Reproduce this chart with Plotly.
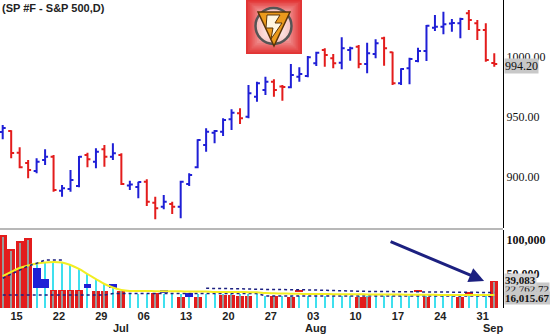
import plotly.graph_objects as go
import pandas as pd

# ---------------- data ----------------
dates = pd.bdate_range("2009-06-12", "2009-09-02")  # 59 sessions (incl. Jul 3)

opens = [937.5, 938.3, 920.3, 911.7, 905.0, 914.2, 916.9, 888.6, 890.0, 892.5,
         918.3, 912.8, 923.1, 916.9, 918.3, 892.9, 891.7, 896.1, 878.6, 875.3,
         877.5, 875.3, 894.2, 908.1, 926.7, 936.9, 937.8, 948.1, 953.1, 950.3,
         966.9, 972.5, 979.4, 975.4, 974.8, 983.6, 984.2, 994.8, 1005.8, 998.9,
         995.3, 1005.8, 1008.6, 994.2, 1002.5, 1015.6, 1003.9, 978.1, 990.6, 996.7,
         1005.0, 1024.4, 1025.3, 1027.9, 1028.1, 1036.4, 1028.1, 1022.5, 995.0]
highs = [943.3, 939.0, 924.8, 914.2, 915.6, 923.1, 918.3, 893.3, 905.8, 917.5,
         920.3, 923.9, 926.7, 928.1, 919.8, 896.9, 896.1, 898.1, 883.6, 885.0,
         879.4, 896.9, 903.1, 931.4, 940.6, 939.2, 948.9, 956.4, 957.3, 976.7,
         979.4, 983.6, 981.4, 976.7, 994.2, 991.4, 1000.8, 1004.4, 1007.3, 1002.5,
         1016.4, 1008.6, 1010.0, 1011.9, 1014.8, 1016.9, 1004.4, 990.6, 999.4, 1007.8,
         1026.7, 1035.0, 1037.8, 1031.7, 1032.8, 1039.2, 1030.8, 1028.1, 1003.1]
lows = [931.4, 915.6, 907.3, 898.9, 903.1, 910.0, 887.8, 883.6, 887.8, 891.4,
        908.1, 907.3, 908.6, 914.2, 893.3, 889.2, 882.3, 875.8, 864.8, 873.1,
        869.2, 865.6, 892.5, 907.3, 921.1, 928.1, 934.2, 939.2, 944.2, 948.9,
        962.8, 968.3, 966.9, 963.6, 973.9, 979.4, 983.1, 992.5, 991.9, 990.6,
        989.8, 996.9, 990.6, 986.4, 998.9, 992.8, 976.7, 976.7, 977.3, 995.6,
        996.7, 1021.7, 1018.9, 1021.1, 1015.6, 1022.5, 1014.2, 996.1, 991.9]
closes = [940.8, 920.0, 908.1, 905.8, 912.8, 916.9, 889.2, 890.6, 897.5, 916.9,
          914.8, 921.1, 916.9, 919.8, 894.2, 893.8, 895.8, 879.4, 873.9, 879.4,
          875.3, 896.1, 901.7, 930.8, 937.8, 938.3, 947.5, 953.6, 948.9, 969.8,
          978.1, 979.4, 972.5, 975.0, 985.0, 985.8, 999.8, 1003.6, 1001.7, 994.8,
          1007.3, 1007.3, 994.2, 1003.1, 1011.4, 1007.3, 978.1, 990.0, 998.3, 1005.0,
          1026.1, 1025.3, 1027.3, 1028.3, 1031.7, 1030.8, 1022.5, 997.5, 994.2]

# volume panel
vol_red = [107000, 86800, 98500, 103000, 0, 0, 26500, 26500, 26500, 26500,
           0, 25400, 25400, 0, 25400, 0, 0, 0, 21600, 0,
           0, 16600, 0, 16600, 0, 0, 19100, 19100, 18100, 18100,
           0, 0, 18100, 0, 16600, 0, 0, 0, 0, 0,
           0, 0, 16600, 16600, 0, 0, 0, 0, 0, 0,
           16600, 0, 0, 0, 16600, 0, 0, 0, 39083]
blk_base = [None, None, None, None, 29400, 29400, None, None, None, None,
            29400, None, None, 29400, None, None, None, None, None, 22100,
            None, None, 16600, None, None, None, None, None, None, None,
            None, None, None, None, None, 23500, None, None, None, None,
            None, None, None, None, None, None, None, None, None, 23500,
            None, None, None, None, None, 20600, None, None, None]
blk_top = [None, None, None, None, 58800, 42600, None, None, None, None,
           35300, None, None, 35300, None, None, None, None, None, 26500,
           None, None, 22100, None, None, None, None, None, None, None,
           None, None, None, None, None, 26500, None, None, None, None,
           None, None, None, None, None, None, None, None, None, 26500,
           None, None, None, None, None, 23500, None, None, None]
blk_kind = [None, None, None, None, 0, 0, None, None, None, None,
            0, None, None, 0, None, None, None, None, None, 0,
            None, None, 0, None, None, None, None, None, None, None,
            None, None, None, None, None, 1, None, None, None, None,
            None, None, None, None, None, None, None, None, None, 1,
            None, None, None, None, None, 1, None, None, None]
ma_line = [47000, 53000, 58800, 62500, 65400, 66900, 67600, 66900, 63200, 57400,
           50000, 42600, 35300, 30100, 26500, 25000, 25000, 24900, 24800, 24700,
           24600, 24500, 24400, 24300, 24300, 23500, 23500, 23500, 23400, 23300,
           23200, 22000, 21600, 21300, 21000, 20800, 20600, 20600, 20500, 20400,
           20300, 20200, 20100, 20000, 20000, 19900, 19800, 19700, 19600, 19500,
           19400, 19300, 19200, 19100, 19100, 19000, 19000, 19000, 19000]
dot_hi = [43700, 50000, 55900, 61800, 65700, 70600, 70600, 70600, None, None,
          None, None, None, None, None, None, None, None, None, None,
          None, None, None, None, 29000, 29000, 28500, 28500, 28000, 28000,
          27500, 27500, 27000, 27000, 26800, 26600, 26500, 26500, 26000, 25500,
          25000, 24800, 24600, 24400, 24300, 24200, 24000, 23800, 23600, 23400,
          23300, 23200, 23100, 23000, 22900, 22850, 22800, 22780, 22762.72]
dot_lo = ([19100] * 13 + [21300] * 18 + [17800] * 27 + [16015.67])

BLUE = "#1f1fd6"
RED = "#e31c1c"
NAVY = "#1c2080"

x = list(range(len(dates)))

fig = go.Figure()
fig.add_trace(go.Ohlc(
    x=x, open=opens, high=highs, low=lows, close=closes,
    increasing=dict(line=dict(color=BLUE, width=2)),
    decreasing=dict(line=dict(color=RED, width=2)),
    tickwidth=0.35, xaxis="x", yaxis="y", showlegend=False, hoverinfo="skip"))

fig.add_trace(go.Bar(x=x, y=dot_lo, width=0.14, marker=dict(color="#3fe0ee", line_width=0),
                     xaxis="x2", yaxis="y2", showlegend=False))
fig.add_trace(go.Bar(x=x, y=ma_line[:14] + [None] * 45, width=0.14, marker=dict(color="#3fe0ee", line_width=0),
                     xaxis="x2", yaxis="y2", showlegend=False))
fig.add_trace(go.Bar(x=x, y=vol_red, width=0.92, marker=dict(color=RED, line_width=0),
                     xaxis="x2", yaxis="y2", showlegend=False))
fig.add_trace(go.Bar(x=x, y=[v * 0.97 for v in vol_red], width=0.14,
                     marker=dict(color="#9a9a9a", line_width=0),
                     xaxis="x2", yaxis="y2", showlegend=False))
for k, col in enumerate([BLUE, RED]):
    fig.add_trace(go.Bar(
        x=x,
        base=[b if kk == k else None for b, kk in zip(blk_base, blk_kind)],
        y=[(t - b) if kk == k else None for t, b, kk in zip(blk_top, blk_base, blk_kind)],
        width=0.92, marker=dict(color=col, line_width=0),
        xaxis="x2", yaxis="y2", showlegend=False))
fig.add_trace(go.Scatter(x=x, y=dot_lo, mode="lines", line=dict(color=NAVY, width=1.5, dash="dot"),
                         xaxis="x2", yaxis="y2", showlegend=False))
fig.add_trace(go.Scatter(x=x, y=ma_line, mode="lines", line=dict(color="#f2ee22", width=2, shape="spline"),
                         xaxis="x2", yaxis="y2", showlegend=False))
fig.add_trace(go.Scatter(x=x, y=dot_hi, mode="lines", line=dict(color=NAVY, width=1.5, dash="dot"),
                         xaxis="x2", yaxis="y2", showlegend=False, connectgaps=False))

# ---------------- axes ----------------
mondays = [i for i, d in enumerate(dates) if d.weekday() == 0]
month_starts = [i for i in range(1, len(dates)) if dates[i].month != dates[i - 1].month]

XR = [-0.32, 59.03]
fig.update_layout(
    width=550, height=334, margin=dict(l=0, r=47, t=0, b=26),
    paper_bgcolor="white", plot_bgcolor="white", barmode="overlay", bargap=0,
    xaxis=dict(domain=[0, 1], range=XR, anchor="y", showticklabels=False, showgrid=False,
               zeroline=False, rangeslider=dict(visible=False)),
    xaxis2=dict(domain=[0, 1], range=XR, anchor="y2", matches="x", showgrid=False, zeroline=False,
                tickmode="array", tickvals=[i + 0.64 for i in mondays],
                ticktext=[f"{dates[i].day:02d}" for i in mondays],
                tickfont=dict(family="Liberation Sans", size=11, color="#222", weight="bold"),
                ticks="", ticklabelstandoff=0),
    yaxis=dict(domain=[0.2597, 1], range=[857.5, 1047.5], side="right", showgrid=False, zeroline=False,
               tickvals=[900, 950, 1000], ticktext=["900.00", "950.00", "1000.00"],
               tickfont=dict(family="Liberation Serif", size=12, color="#111"),
               showline=True, linecolor="black", linewidth=1, ticks="", anchor="x"),
    yaxis2=dict(domain=[0, 0.2532], range=[0, 114706], side="right", showgrid=False, zeroline=False,
                tickvals=[50000, 100000], ticktext=["50,000", "100,000"],
                tickfont=dict(family="Liberation Serif", size=12, color="#111", weight="bold"),
                showline=True, linecolor="black", linewidth=1, ticks="", anchor="x2"),
)

anns = []
anns.append(dict(text="<b>(SP #F - S&P 500,D)</b>", xref="paper", yref="paper", x=0, y=1,
                 xanchor="left", yanchor="top", showarrow=False,
                 font=dict(family="Liberation Sans", size=11, color="#222")))
for i in month_starts:
    anns.append(dict(text=f"<b>{dates[i].strftime('%b')}</b>", xref="x2", yref="paper", x=i + 0.9, y=0,
                     yshift=-20, xanchor="center", yanchor="middle", showarrow=False,
                     font=dict(family="Liberation Sans", size=11, color="#222")))
anns.append(dict(text="994.20", xref="paper", yref="y", x=1, y=closes[-1], xanchor="left", yanchor="middle",
                 xshift=1, yshift=-2, showarrow=False, bgcolor="#c8c8c8", borderpad=0,
                 font=dict(family="Liberation Serif", size=12, color="#111")))
anns.append(dict(text="22,762.72", xref="paper", yref="y2", x=1, y=dot_hi[-1], xanchor="left",
                 yanchor="middle", xshift=1, yshift=4, showarrow=False, bgcolor="#c8c8c8", borderpad=0,
                 font=dict(family="Liberation Serif", size=11, color="#111")))
anns.append(dict(text="16,015.67", xref="paper", yref="y2", x=1, y=dot_lo[-1], xanchor="left",
                 yanchor="middle", xshift=1, yshift=-1, showarrow=False, bgcolor="#c8c8c8", borderpad=0,
                 font=dict(family="Liberation Serif", size=11, color="#111", weight="bold")))
anns.append(dict(text="39,083", xref="paper", yref="y2", x=1, y=vol_red[-1], xanchor="left",
                 yanchor="middle", xshift=1, yshift=1, showarrow=False, bgcolor="#d4d4d4", borderpad=0,
                 font=dict(family="Liberation Serif", size=11, color="#111", weight="bold")))
anns.append(dict(text="", xref="x2", yref="y2", x=56.8, y=39700, ax=-95, ay=-40, showarrow=True,
                 arrowhead=2, arrowsize=1, arrowwidth=3, arrowcolor=NAVY))
fig.update_layout(annotations=anns)

# panel separator
fig.add_shape(type="rect", xref="paper", yref="paper", x0=0, x1=1, y0=0.2532, y1=0.2597,
              fillcolor="#b8b8b8", line_width=0, layer="above")

# ---------------- logo (decorative) ----------------
PW, PH = 503.0, 308.0
def px(v):
    return v / PW
def py(v):
    return 1 - v / PH

n_layers = 14
c_out = (226, 52, 52)
c_in = (253, 236, 236)
for k in range(n_layers):
    t = k / (n_layers - 1)
    ins = t * 24
    col = "rgb({},{},{})".format(*[int(a + (b - a) * t) for a, b in zip(c_out, c_in)])
    fig.add_shape(type="rect", xref="paper", yref="paper",
                  x0=px(246 + ins), x1=px(302 - ins), y0=py(54 - ins), y1=py(0 + ins * 0.8),
                  fillcolor=col, line_width=0, layer="above")
fig.add_shape(type="circle", xref="paper", yref="paper", x0=px(255.5), x1=px(291.5), y0=py(44), y1=py(8),
              fillcolor="rgba(255,248,244,0.55)", line=dict(color="#555555", width=2.5), layer="above")

def path(pts):
    return "M " + " L ".join(f"{px(a):.5f},{py(b):.5f}" for a, b in pts) + " Z"

fig.add_shape(type="path", xref="paper", yref="paper", path=path([(258, 12), (290, 12), (274, 46)]),
              fillcolor="#eb9a1c", line=dict(color="#5a3408", width=1.5), layer="above")
fig.add_shape(type="path", xref="paper", yref="paper",
              path=path([(267, 15), (280, 15), (275, 23), (282, 23), (271, 39), (273, 28), (266, 28)]),
              fillcolor="#fff6e0", line=dict(color="#5a3408", width=1), layer="above")

fig.write_html("out.html")
